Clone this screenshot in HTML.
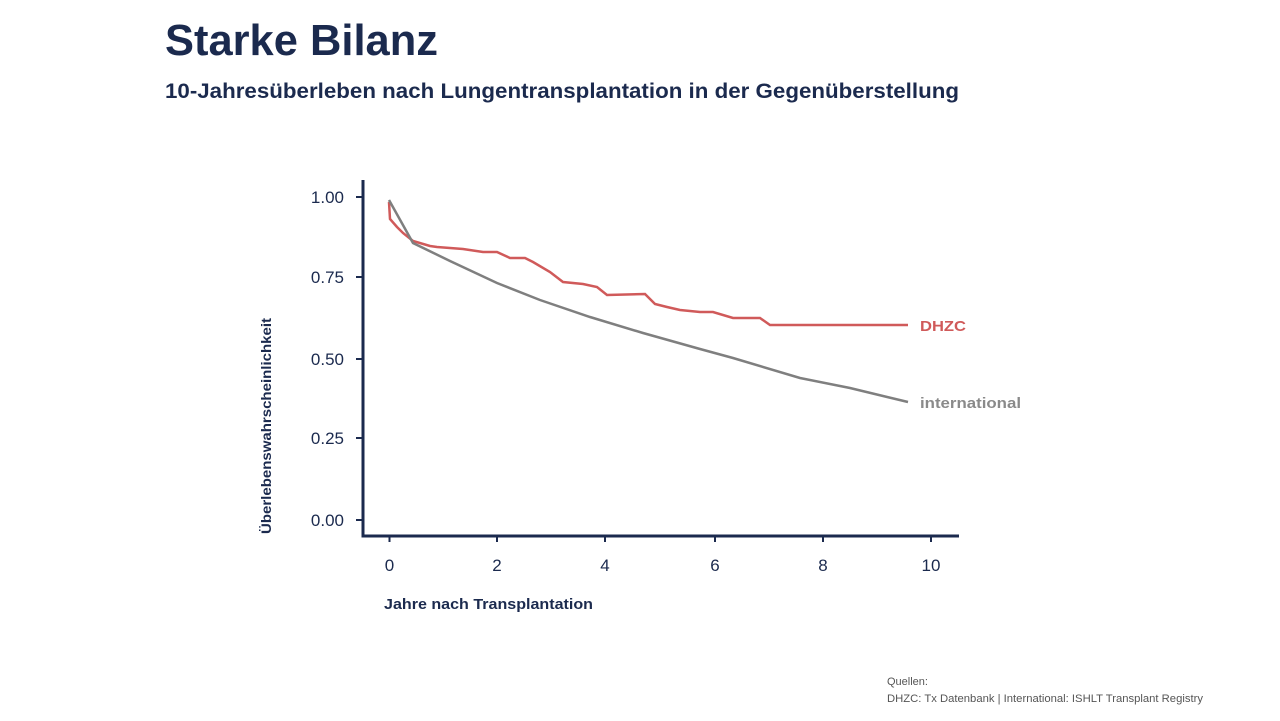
<!DOCTYPE html>
<html><head><meta charset="utf-8"><style>body{margin:0;background:#fff}svg{display:block}</style></head>
<body>
<svg width="1280" height="721" viewBox="0 0 1280 721" xmlns="http://www.w3.org/2000/svg" font-family="Liberation Sans, sans-serif">
<rect width="1280" height="721" fill="#fff"/>
<text x="165" y="55" font-size="44" font-weight="bold" fill="#1b2a4e" textLength="273" lengthAdjust="spacingAndGlyphs">Starke Bilanz</text>
<text x="165" y="98" font-size="21" font-weight="bold" fill="#1b2a4e" textLength="794" lengthAdjust="spacingAndGlyphs">10-Jahresüberleben nach Lungentransplantation in der Gegenüberstellung</text>
<g stroke="#1b2a4e" stroke-width="3" fill="none">
<path d="M363 180 V536 H959"/>
</g>
<g stroke="#1b2a4e" stroke-width="2">
<path d="M356 197H363M356 277H363M356 359H363M356 438H363M356 520H363"/>
<path d="M389.5 536V542M497 536V542M605 536V542M715 536V542M823 536V542M931 536V542"/>
</g>
<g font-size="17" fill="#1b2a4e" text-anchor="end">
<text x="344" y="203">1.00</text><text x="344" y="283">0.75</text><text x="344" y="365">0.50</text><text x="344" y="444">0.25</text><text x="344" y="526">0.00</text>
</g>
<g font-size="17" fill="#1b2a4e" text-anchor="middle">
<text x="389.5" y="571">0</text><text x="497" y="571">2</text><text x="605" y="571">4</text><text x="715" y="571">6</text><text x="823" y="571">8</text><text x="931" y="571">10</text>
</g>
<text x="384" y="609" font-size="15" font-weight="600" fill="#1b2a4e" textLength="209" lengthAdjust="spacingAndGlyphs">Jahre nach Transplantation</text>
<text transform="translate(271,534) rotate(-90)" font-size="14" font-weight="600" fill="#1b2a4e" textLength="216" lengthAdjust="spacingAndGlyphs">Überlebenswahrscheinlichkeit</text>
<polyline fill="none" stroke="#d05a5a" stroke-width="2.5" points="389,202 390,219 397,227 403,233 413,241 430,246 437,247 463,249 483,252 497,252 510,258 525,258 533,262 550,272 563,282 583,284 597,287 607,295 645,294 655,304 667,307 680,310 700,312 713,312 733,318 760,318 770,325 908,325"/>
<polyline fill="none" stroke="#7f7f7f" stroke-width="2.5" points="389,200 413,243 450,261 497,283 540,300 590,317 643,333 700,349 733,358 800,378 850,388 908,402"/>
<text x="920" y="331" font-size="15" font-weight="bold" fill="#d05a5a" textLength="46" lengthAdjust="spacingAndGlyphs">DHZC</text>
<text x="920" y="408" font-size="15" font-weight="bold" fill="#8a8a8a" textLength="101" lengthAdjust="spacingAndGlyphs">international</text>
<text x="887" y="685" font-size="11" fill="#555">Quellen:</text>
<text x="887" y="702" font-size="11" fill="#555" textLength="316" lengthAdjust="spacingAndGlyphs">DHZC: Tx Datenbank | International: ISHLT Transplant Registry</text>
</svg>
</body></html>
